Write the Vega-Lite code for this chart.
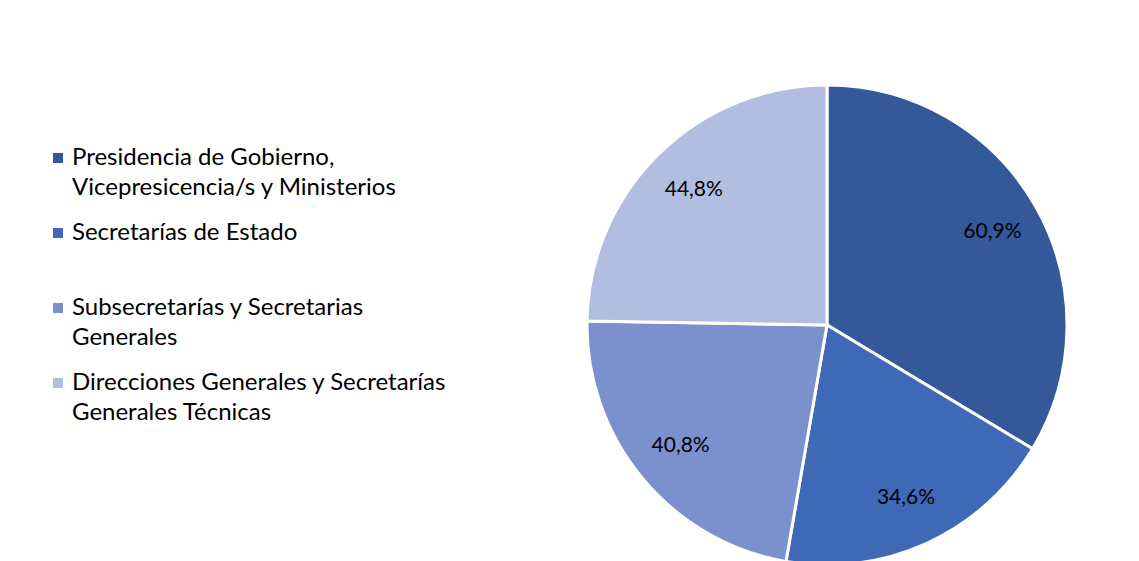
{
  "$schema": "https://vega.github.io/schema/vega-lite/v6.json",
  "width": 480,
  "height": 480,
  "autosize": {"type": "none"},
  "padding": {"left": 587, "top": 85, "right": 72, "bottom": 0},
  "background": "white",
  "config": {
    "view": {"stroke": null},
    "style": {"guide-label": {"lineHeight": 30}},
    "locale": {"number": {"decimal": ",", "thousands": ".", "grouping": [3], "currency": ["", " €"]}}
  },
  "data": {
    "values": [
      {"categoria": "Presidencia de Gobierno, Vicepresicencia/s y Ministerios", "orden": 1, "valor": 0.609},
      {"categoria": "Secretarías de Estado", "orden": 2, "valor": 0.346},
      {"categoria": "Subsecretarías y Secretarias Generales", "orden": 3, "valor": 0.408},
      {"categoria": "Direcciones Generales y Secretarías Generales Técnicas", "orden": 4, "valor": 0.448}
    ]
  },
  "encoding": {
    "theta": {"field": "valor", "type": "quantitative", "stack": true},
    "order": {"field": "orden", "type": "quantitative"}
  },
  "layer": [
    {
      "mark": {"type": "arc", "stroke": "white", "strokeWidth": 3},
      "encoding": {
        "color": {
          "field": "categoria",
          "type": "nominal",
          "scale": {
            "domain": [
              "Presidencia de Gobierno, Vicepresicencia/s y Ministerios",
              "Secretarías de Estado",
              "Subsecretarías y Secretarias Generales",
              "Direcciones Generales y Secretarías Generales Técnicas"
            ],
            "range": ["#34589A", "#3F69B6", "#7A91CE", "#B2BEDF"]
          },
          "legend": {
            "orient": "none",
            "legendX": -541,
            "legendY": 61,
            "title": null,
            "symbolType": "square",
            "symbolSize": 100,
            "symbolStrokeWidth": 0,
            "labelFont": "Lato",
            "labelFontSize": 24,
            "labelColor": "#000000",
            "labelLimit": 600,
            "labelOffset": 2,
            "gridAlign": "all",
            "rowPadding": 21,
            "labelExpr": "datum.label == 'Presidencia de Gobierno, Vicepresicencia/s y Ministerios' ? ['Presidencia de Gobierno,', 'Vicepresicencia/s y Ministerios'] : datum.label == 'Subsecretarías y Secretarias Generales' ? ['Subsecretarías y Secretarias', 'Generales'] : datum.label == 'Direcciones Generales y Secretarías Generales Técnicas' ? ['Direcciones Generales y Secretarías', 'Generales Técnicas'] : datum.label",
            "encode": {"labels": {"update": {"lineHeight": {"value": 30}}}}
          }
        }
      }
    },
    {
      "mark": {"type": "text", "radius": 190, "font": "Lato", "fontSize": 21, "color": "#000000"},
      "encoding": {
        "text": {"field": "valor", "type": "quantitative", "format": ".1%"}
      }
    }
  ]
}
